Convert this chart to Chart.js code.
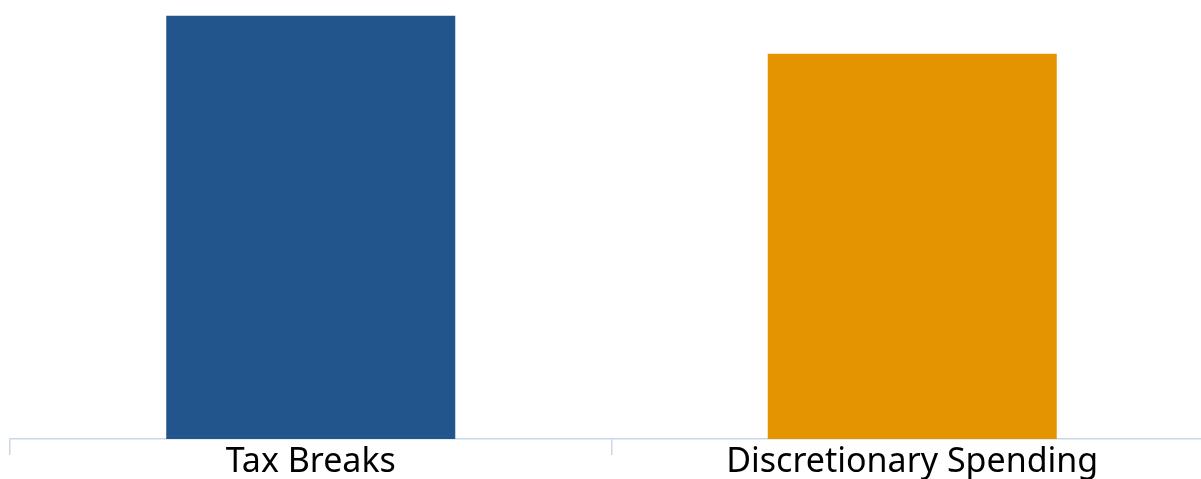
<!DOCTYPE html>
<html>
<head>
<meta charset="utf-8">
<script src="https://cdn.jsdelivr.net/npm/chart.js@4"></script>
<style>
html,body{margin:0;padding:0;overflow:hidden;background:#fff;}
#wrap{width:1221px;height:479px;position:relative;}
</style>
</head>
<body>
<div id="wrap"><canvas id="c"></canvas></div>
<script>
const categories = ["Tax Breaks", "Discretionary Spending"];
const values = [1.34, 1.22];
const barColors = ["#21558c", "#e39400"];

new Chart(document.getElementById('c'), {
  type: 'bar',
  data: {
    labels: categories,
    datasets: [{
      data: values,
      backgroundColor: barColors,
      borderWidth: 0,
      categoryPercentage: 1,
      barPercentage: 0.4805
    }]
  },
  options: {
    responsive: true,
    maintainAspectRatio: false,
    animation: false,
    layout: { padding: { left: 10, right: 8, top: 0, bottom: 0 } },
    plugins: { legend: { display: false }, tooltip: { enabled: false } },
    scales: {
      x: {
        afterFit: (scale) => { scale.height = 40; },
        grid: { display: true, drawOnChartArea: false, drawTicks: true, tickLength: 16, lineWidth: 1.5, color: '#ccd6eb', offset: true },
        border: { display: true, color: '#ccd6eb', width: 1.5 },
        ticks: { color: '#000', font: { family: 'Noto Sans', size: 34 }, padding: -13 }
      },
      y: { display: false, min: 0, max: 1.39 }
    }
  }
});
</script>
</body>
</html>
